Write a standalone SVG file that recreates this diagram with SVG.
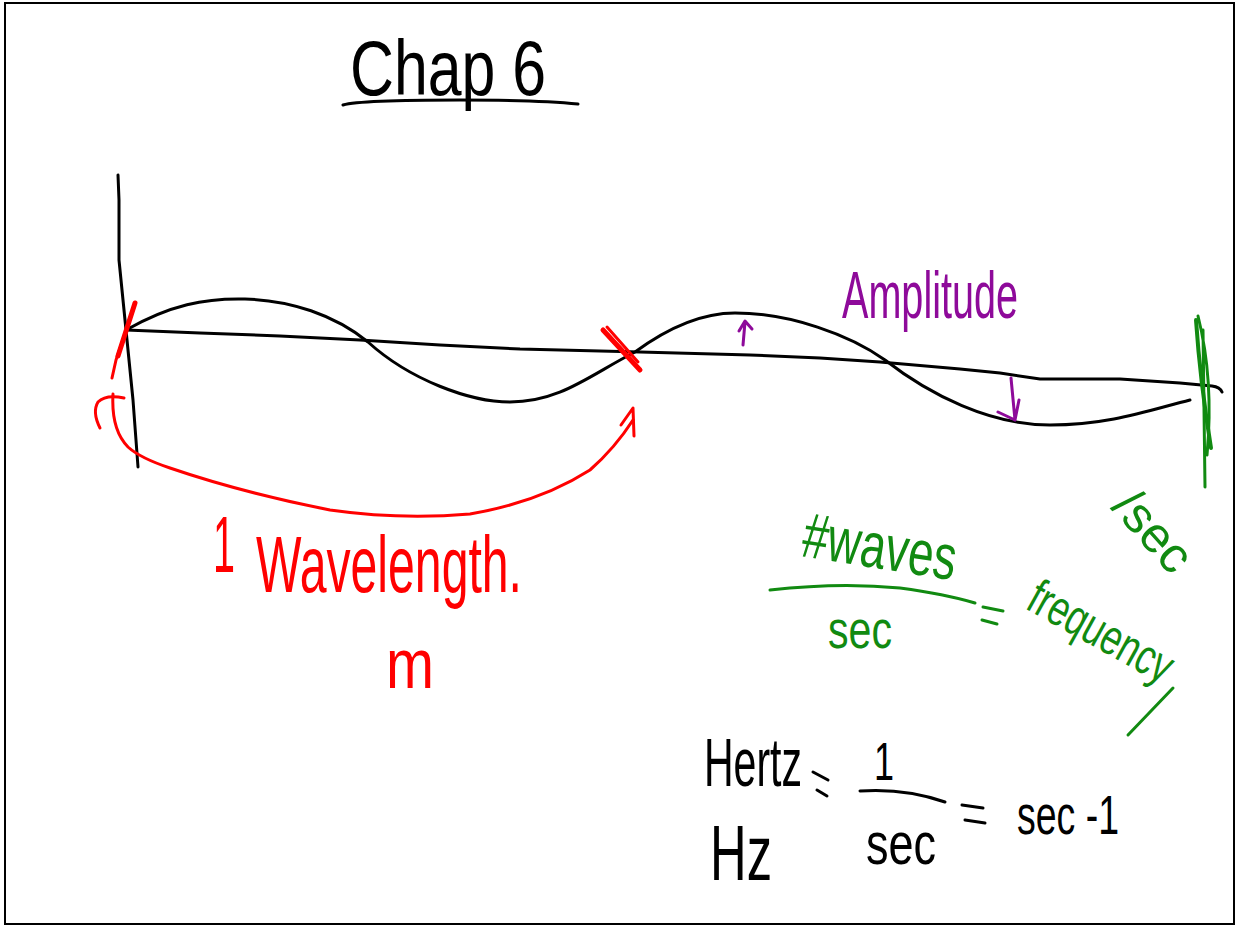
<svg xmlns="http://www.w3.org/2000/svg" width="1238" height="926" viewBox="0 0 1238 926">
<style>
.ink{fill:none;stroke-linecap:round;stroke-linejoin:round}
.k{stroke:#000}
.r{stroke:#f00}
.p{stroke:#8e0a9a}
.g{stroke:#118a11}
.t{font-family:"Liberation Sans","DejaVu Sans",sans-serif;font-weight:normal}
.tk{fill:#000}.tr{fill:#f00}.tp{fill:#8e0a9a}.tg{fill:#118a11}
</style>
<rect x="5" y="3" width="1229" height="921" fill="#fff" stroke="#000" stroke-width="2"/>

<g id="title">
<text class="t tk" x="350" y="95" font-size="78" textLength="196" lengthAdjust="spacingAndGlyphs">Chap 6</text>
<path class="ink k" stroke-width="3" d="M343,105 Q360,100 460,100 Q540,100 578,104"/>
</g>

<g id="axes">
<path class="ink k" stroke-width="3" d="M118,175 L119,200 L119,260 L126,330 L133,400 L138,467"/>
<path class="ink k" stroke-width="3" d="M126,330 L200,333 L280,336 L360,340 L440,345 L520,349 L640,352 L750,355 L820,358 L880,362 L960,369 L1000,373 L1040,379 L1120,379 L1180,383 L1212,386 Q1220,387 1222,392"/>
</g>

<g id="wave">
<path class="ink k" stroke-width="3" d="M126,330 C170,305 205,298 245,299 C290,300 335,315 368,342 C410,380 470,402 510,402 C560,402 590,375 635,352 C665,330 700,313 735,313 C790,313 850,335 885,360 C930,395 990,425 1050,425 C1110,425 1150,410 1190,400"/>
</g>

<g id="wavelength">
<path class="ink r" stroke-width="5" d="M135,303 L118,356"/>
<path class="ink r" stroke-width="3" d="M133,310 L116,360 L112,378"/>
<path class="ink r" stroke-width="5" d="M603,330 L640,370"/>
<path class="ink r" stroke-width="3" d="M607,327 L638,362"/>
<path class="ink r" stroke-width="3" d="M100,428 Q92,412 98,402 Q106,394 124,398"/>
<path class="ink r" stroke-width="3" d="M113,394 Q111,430 128,447 Q140,458 170,468 Q240,492 330,510 Q400,520 470,514 Q540,502 590,470 Q615,448 633,420"/>
<path class="ink r" stroke-width="3" d="M621,425 L633,408 L634,436"/>
<text class="t tr" x="213" y="572" font-size="80" textLength="22" lengthAdjust="spacingAndGlyphs">1</text>
<text class="t tr" x="256" y="592" font-size="80" textLength="266" lengthAdjust="spacingAndGlyphs">Wavelength.</text>
<text class="t tr" x="386" y="688" font-size="70" textLength="48" lengthAdjust="spacingAndGlyphs">m</text>
</g>

<g id="amplitude">
<text class="t tp" x="842" y="318" font-size="66" textLength="176" lengthAdjust="spacingAndGlyphs">Amplitude</text>
<path class="ink p" stroke-width="3" d="M743,345 L745,322 M739,331 L745,321 L752,329"/>
<path class="ink p" stroke-width="3" d="M1011,378 L1015,420 M998,412 L1015,420 L1019,400"/>
</g>

<g id="frequency">
<path class="ink g" stroke-width="4" d="M1196,320 Q1200,380 1211,448"/>
<path class="ink g" stroke-width="3" d="M1198,316 Q1214,380 1207,455 M1203,330 L1205,487"/>
<text class="t tg" x="1110" y="508" font-size="50" textLength="92" lengthAdjust="spacingAndGlyphs" transform="rotate(48 1110 508)">/sec</text>
<text class="t tg" x="800" y="556" font-size="64" textLength="155" lengthAdjust="spacingAndGlyphs" transform="rotate(9 800 556)">#waves</text>
<path class="ink g" stroke-width="3" d="M770,590 Q840,582 900,588 Q945,594 975,603"/>
<text class="t tg" x="828" y="648" font-size="54" textLength="64" lengthAdjust="spacingAndGlyphs">sec</text>
<path class="ink g" stroke-width="3" d="M983,607 L1003,611 M982,620 L997,624"/>
<text class="t tg" x="1024" y="608" font-size="50" textLength="158" lengthAdjust="spacingAndGlyphs" transform="rotate(29 1024 608)">frequency</text>
<path class="ink g" stroke-width="3" d="M1173,688 L1128,735"/>
</g>

<g id="hertz">
<text class="t tk" x="704" y="786" font-size="68" textLength="98" lengthAdjust="spacingAndGlyphs">Hertz</text>
<path class="ink k" stroke-width="3" d="M813,772 L828,780 M817,790 L827,796"/>
<text class="t tk" x="874" y="780" font-size="54" font-weight="bold" textLength="20" lengthAdjust="spacingAndGlyphs">1</text>
<path class="ink k" stroke-width="3" d="M860,791 Q905,788 945,802"/>
<text class="t tk" x="866" y="864" font-size="60" textLength="70" lengthAdjust="spacingAndGlyphs">sec</text>
<path class="ink k" stroke-width="3" d="M962,805 L983,808 M965,820 L985,823"/>
<text class="t tk" x="1017" y="834" font-size="56" textLength="102" lengthAdjust="spacingAndGlyphs">sec -1</text>
<text class="t tk" x="710" y="880" font-size="78" textLength="62" lengthAdjust="spacingAndGlyphs">Hz</text>
</g>
</svg>
